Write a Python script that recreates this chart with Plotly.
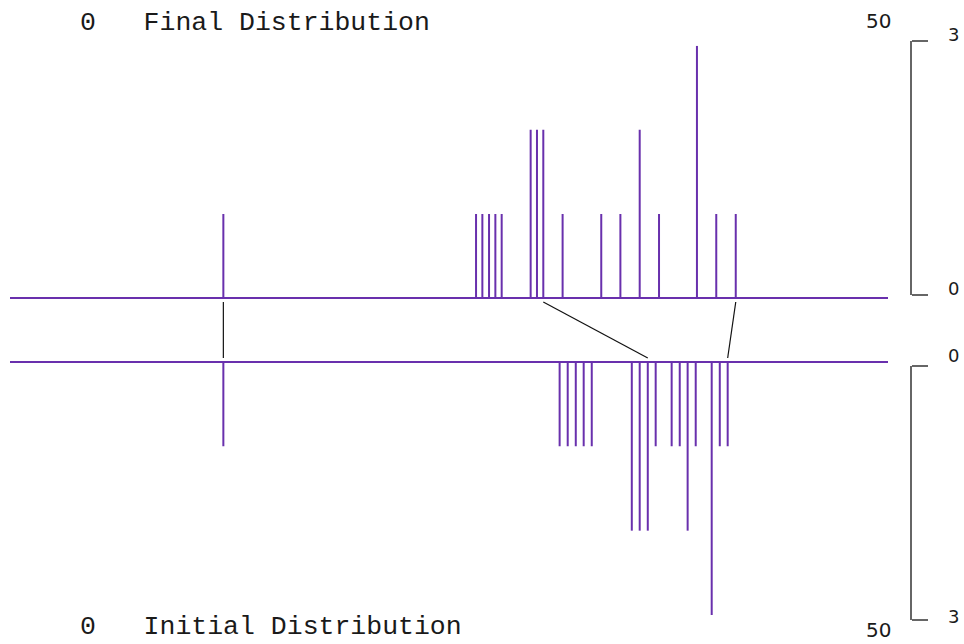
import plotly.graph_objects as go

# ---- data -------------------------------------------------------------
x_range = [0, 50]
y_range = [0, 3]

final_x = [12.15, 26.54, 26.90, 27.28, 27.64, 28.00, 29.65, 30.01, 30.37,
           31.47, 33.67, 34.76, 35.86, 36.96, 39.12, 40.22, 41.33]
final_counts = [1, 1, 1, 1, 1, 1, 2, 2, 2, 1, 1, 1, 2, 1, 3, 1, 1]

initial_x = [12.15, 31.30, 31.76, 32.22, 32.67, 33.13, 35.41, 35.86, 36.32,
             36.77, 37.68, 38.14, 38.59, 39.05, 39.96, 40.42, 40.87]
initial_counts = [1, 1, 1, 1, 1, 1, 2, 2, 2, 1, 1, 1, 2, 1, 3, 1, 1]

top_title = "Final Distribution"
bottom_title = "Initial Distribution"

# ---- styling ----------------------------------------------------------
W, H = 964, 644
PURPLE = "#6930ad"
BRACKET = "#666666"
MONO = "Liberation Mono, Courier New, monospace"
SANS = "DejaVu Sans, Verdana, sans-serif"
PAD = 0.05  # a little room below 0 so the baselines are not clipped


def fy(px):
    """pixel row -> paper fraction"""
    return 1 - px / H


def fx(px):
    return px / W


def stems(xs, counts):
    sx, sy = [], []
    for x, c in zip(xs, counts):
        sx += [x, x, None]
        sy += [0, c, None]
    return sx, sy


def quantile_points(xs, counts):
    expanded = sorted(x for x, c in zip(xs, counts) for _ in range(c))
    n = len(expanded)
    return [expanded[0], expanded[(n - 1) // 2], expanded[-1]]


fig = go.Figure()

# carriers for the bracket axes (drawn first so nothing covers the stems)
fig.add_trace(go.Scatter(x=[x_range[0]], y=[0], mode="markers", xaxis="x", yaxis="y3",
                         marker=dict(opacity=0), hoverinfo="skip"))
fig.add_trace(go.Scatter(x=[x_range[0]], y=[0], mode="markers", xaxis="x", yaxis="y4",
                         marker=dict(opacity=0), hoverinfo="skip"))

# baselines
fig.add_trace(go.Scatter(x=x_range, y=[0, 0], mode="lines", xaxis="x", yaxis="y",
                         line=dict(color=PURPLE, width=2), hoverinfo="skip"))
fig.add_trace(go.Scatter(x=x_range, y=[0, 0], mode="lines", xaxis="x", yaxis="y2",
                         line=dict(color=PURPLE, width=2), hoverinfo="skip"))

# stems
tx, ty = stems(final_x, final_counts)
fig.add_trace(go.Scatter(x=tx, y=ty, mode="lines", xaxis="x", yaxis="y",
                         line=dict(color=PURPLE, width=2), name=top_title))
bx, by = stems(initial_x, initial_counts)
fig.add_trace(go.Scatter(x=bx, y=by, mode="lines", xaxis="x", yaxis="y2",
                         line=dict(color=PURPLE, width=2), name=bottom_title))

# min / median / max connectors between the two distributions
shapes = []
for a, b in zip(quantile_points(final_x, final_counts),
                quantile_points(initial_x, initial_counts)):
    shapes.append(dict(type="line", xref="x", yref="paper",
                       x0=a, y0=fy(302), x1=b, y1=fy(358),
                       line=dict(color="#111111", width=1.2)))

bracket_axis = dict(anchor="free", side="right", position=fx(911),
                    range=y_range, showline=True, linecolor=BRACKET, linewidth=1.5,
                    ticks="outside", ticklen=16, tickwidth=1.5, tickcolor=BRACKET,
                    tickvals=y_range, showticklabels=False, showgrid=False,
                    zeroline=False, fixedrange=True)

# pixel rows of 0 and 3 for each stem panel
TOP0, TOP3 = 298.0, 45.7
BOT0, BOT3 = 362.0, 615.0
top_unit = (TOP0 - TOP3) / 3
bot_unit = (BOT3 - BOT0) / 3

annotations = [
    dict(text="0   " + top_title, x=fx(78), y=fy(23), xanchor="left", yanchor="middle",
         font=dict(family=MONO, size=26.5, color="#1a1a1a")),
    dict(text="0   " + bottom_title, x=fx(78), y=0, xanchor="left", yanchor="bottom",
         font=dict(family=MONO, size=26.5, color="#1a1a1a")),
    dict(text=str(x_range[1]), x=fx(893), y=fy(21), xanchor="right", yanchor="middle",
         font=dict(family=SANS, size=20, color="#1a1a1a")),
    dict(text=str(x_range[1]), x=fx(893), y=fy(630), xanchor="right", yanchor="middle",
         font=dict(family=SANS, size=20, color="#1a1a1a")),
    dict(text=str(y_range[1]), x=fx(946), y=fy(34), xanchor="left", yanchor="middle",
         font=dict(family=SANS, size=18, color="#1a1a1a")),
    dict(text=str(y_range[0]), x=fx(946), y=fy(288), xanchor="left", yanchor="middle",
         font=dict(family=SANS, size=18, color="#1a1a1a")),
    dict(text=str(y_range[0]), x=fx(946), y=fy(355), xanchor="left", yanchor="middle",
         font=dict(family=SANS, size=18, color="#1a1a1a")),
    dict(text=str(y_range[1]), x=fx(946), y=fy(616), xanchor="left", yanchor="middle",
         font=dict(family=SANS, size=18, color="#1a1a1a")),
]
for a in annotations:
    a.update(xref="paper", yref="paper", showarrow=False)

fig.update_layout(
    width=W, height=H,
    margin=dict(l=0, r=0, t=0, b=0),
    paper_bgcolor="white", plot_bgcolor="rgba(0,0,0,0)",
    showlegend=False,
    xaxis=dict(domain=[fx(10), fx(888)], range=x_range, visible=False, fixedrange=True),
    yaxis=dict(domain=[fy(TOP0 + PAD * top_unit), fy(TOP3)],
               range=[y_range[0] - PAD, y_range[1]], visible=False,
               anchor="x", fixedrange=True),
    yaxis2=dict(domain=[fy(BOT3), fy(BOT0 - PAD * bot_unit)],
                range=[y_range[1], y_range[0] - PAD], visible=False,
                anchor="x", fixedrange=True),
    yaxis3=dict(domain=[fy(295), fy(41)], **bracket_axis),
    yaxis4=dict(domain=[fy(620), fy(365.7)], **{**bracket_axis, "range": y_range[::-1]}),
    shapes=shapes,
    annotations=annotations,
)

fig.write_html("out.html", config={"displayModeBar": False})
